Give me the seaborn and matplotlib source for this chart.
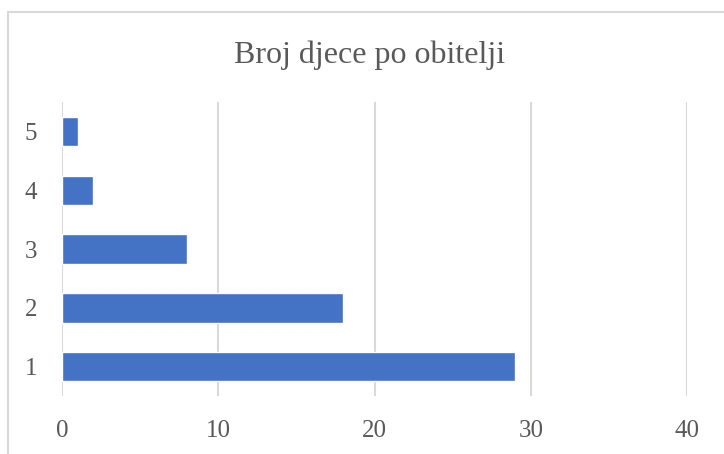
import pandas as pd
import matplotlib.pyplot as plt
import matplotlib.patches as mpatches
import seaborn as sns

# Number of children per family
children = ['5', '4', '3', '2', '1']
families = [1, 2, 8, 18, 29]
x_ticks = [0, 10, 20, 30, 40]

TEXT_COLOR = '#595959'
GRID_COLOR = '#D9D9D9'
BAR_COLOR = '#4472C4'

df = pd.DataFrame({'children': children, 'families': families})

sns.set_style('white')
plt.rcParams['font.family'] = ['Liberation Serif', 'DejaVu Serif']

fig = plt.figure(figsize=(7.24, 4.54), dpi=100)
ax = fig.add_axes([62 / 724, 1 - 396 / 454, (687 - 62) / 724, (396 - 102) / 454])

sns.barplot(data=df, y='children', x='families', order=children,
            color=BAR_COLOR, saturation=1, width=0.5, orient='h', ax=ax)

ax.set_xlim(0, 40)
ax.set_ylim(len(children) - 0.5, -0.5)
ax.set_xticks(x_ticks)
ax.set_xticklabels([str(t) for t in x_ticks])
ax.xaxis.grid(True, color=GRID_COLOR, linewidth=1.5)
ax.set_axisbelow(True)
for spine in ax.spines.values():
    spine.set_visible(False)
ax.tick_params(axis='both', length=0, labelsize=18, colors=TEXT_COLOR)
ax.tick_params(axis='x', pad=17)
ax.tick_params(axis='y', pad=18)
ax.set_xlabel('')
ax.set_ylabel('')

fig.text(370 / 724, 1 - 55 / 454, 'Broj djece po obitelji', ha='center', va='center',
         fontsize=23, color=TEXT_COLOR)

# chart area border (Excel style), running off the right and bottom edges
top = 1 - 12 / 454
fig.patches.append(mpatches.Rectangle(
    (8 / 724, -0.2), 1.2, top + 0.2, transform=fig.transFigure,
    fill=False, edgecolor=GRID_COLOR, linewidth=1.5))

fig.savefig('out.png', dpi=100)
plt.close(fig)
